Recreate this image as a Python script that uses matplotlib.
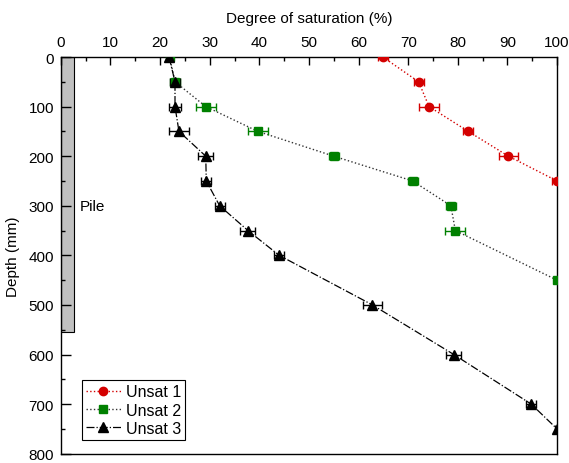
import numpy as np
import matplotlib.pyplot as plt
from matplotlib.patches import Rectangle
from matplotlib.ticker import MultipleLocator

plt.rcParams['font.family'] = ['Liberation Sans', 'DejaVu Sans']
plt.rcParams['font.size'] = 11

# depth (mm) vs degree of saturation (%) with horizontal error
depth1 = [0, 50, 100, 150, 200, 250]
sat1 = [64.9, 72.1, 74.2, 82.1, 90.2, 100]
err1 = [1.0, 1.0, 2.0, 1.0, 2.0, 1.0]

depth2 = [0, 50, 100, 150, 200, 250, 300, 350, 450]
sat2 = [21.9, 23.0, 29.2, 39.7, 55.0, 70.9, 78.6, 79.5, 100]
err2 = [0.5, 1.0, 2.0, 2.0, 1.0, 1.0, 1.0, 2.0, 0.5]

depth3 = [0, 50, 100, 150, 200, 250, 300, 350, 400, 500, 600, 700, 750]
sat3 = [21.8, 23.0, 23.0, 23.8, 29.2, 29.3, 32.0, 37.7, 44.0, 62.8, 79.2, 94.8, 100]
err3 = [0.5, 1.0, 1.2, 2.0, 1.5, 1.0, 1.0, 1.5, 1.0, 2.0, 1.5, 1.0, 0.5]

pile_width = 2.6
pile_depth = 555

fig = plt.figure(figsize=(5.69, 4.64), dpi=100)
ax = fig.add_axes([0.107, 0.02, 0.872, 0.855])

ax.add_patch(Rectangle((0, 0), pile_width, pile_depth, facecolor='#c0c0c0',
                       edgecolor='black', linewidth=0.8, zorder=1))
ax.text(3.8, 300, 'Pile', ha='left', va='center')

ax.errorbar(sat1, depth1, xerr=err1, color='#d40000', marker='o', ms=6,
            ls=':', lw=1, capsize=3, elinewidth=1, zorder=3)
ax.errorbar(sat2, depth2, xerr=err2, color='#008000', marker='s', ms=5.5,
            ls='none', capsize=3, elinewidth=1, zorder=3)
ax.plot(sat2, depth2, color='#333333', ls=':', lw=1, zorder=2)
ax.errorbar(sat3, depth3, xerr=err3, color='black', marker='^', ms=6.5,
            ls='-.', lw=0.9, capsize=3, elinewidth=1, zorder=3)

# legend handles
h1 = ax.plot([], [], color='#d40000', marker='o', ms=6, ls=':', lw=1)[0]
h2 = ax.plot([], [], color='#333333', marker='s', ms=5.5, mfc='#008000',
             mec='#008000', ls=':', lw=1)[0]
h3 = ax.plot([], [], color='black', marker='^', ms=6.5, ls='-.', lw=0.9)[0]
leg = ax.legend([h1, h2, h3], ['Unsat 1', 'Unsat 2', 'Unsat 3'],
                loc='lower left', bbox_to_anchor=(0.042, 0.035),
                fancybox=False, edgecolor='black', framealpha=1,
                fontsize=11.5, handlelength=2.2, borderpad=0.25,
                labelspacing=0.2, handletextpad=0.3, borderaxespad=0)
leg.get_frame().set_linewidth(0.8)

ax.set_xlim(0, 100)
ax.set_ylim(800, 0)
ax.xaxis.set_major_locator(MultipleLocator(10))
ax.xaxis.set_minor_locator(MultipleLocator(5))
ax.yaxis.set_major_locator(MultipleLocator(100))
ax.yaxis.set_minor_locator(MultipleLocator(50))
ax.xaxis.tick_top()
ax.xaxis.set_label_position('top')
ax.tick_params(which='both', direction='in', top=True, bottom=False,
               left=True, right=False)
ax.tick_params(which='major', length=6, width=1, pad=6)
ax.tick_params(which='minor', length=3, width=1)
ax.tick_params(axis='y', which='major', length=7, pad=5)
ax.set_xlabel('Degree of saturation (%)', labelpad=9)
ax.set_ylabel('Depth (mm)', labelpad=6)
for s in ax.spines.values():
    s.set_linewidth(1)

fig.savefig('out.png', dpi=100)
